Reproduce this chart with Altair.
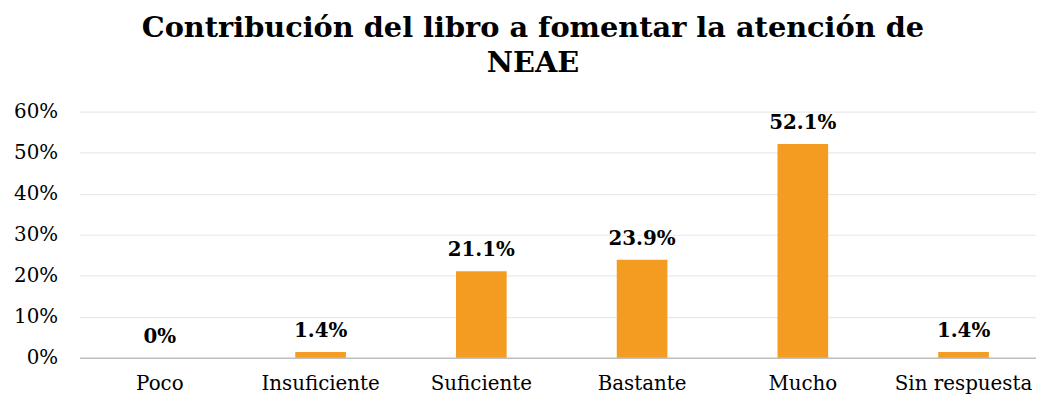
import altair as alt
import pandas as pd

categories = ["Poco", "Insuficiente", "Suficiente", "Bastante", "Mucho", "Sin respuesta"]
values = [0.0, 1.4, 21.1, 23.9, 52.1, 1.4]
y_ticks = [0, 0.1, 0.2, 0.3, 0.4, 0.5, 0.6]
title_lines = ["Contribución del libro a fomentar la atención de", "NEAE"]

df = pd.DataFrame({
    "cat": categories,
    "pct": [v / 100 for v in values],
    "label": [f"{v:g}%" for v in values],
})

FONT = "DejaVu Serif"

x = alt.X(
    "cat:N", sort=categories, title=None,
    scale=alt.Scale(paddingInner=0.685, paddingOuter=0.318, align=0.539),
    axis=alt.Axis(labelAngle=0, labelFont=FONT, labelFontSize=20, labelColor="#000000",
                  labelPadding=16, ticks=False, domainColor="#bfbfbf", domainWidth=1.5,
                  grid=False),
)
y = alt.Y(
    "pct:Q", title=None,
    scale=alt.Scale(domain=[0, 0.6], nice=False),
    axis=alt.Axis(values=y_ticks, format=".0%", labelFont=FONT, labelFontSize=20,
                  labelColor="#000000", labelPadding=22, ticks=False, domain=False,
                  gridColor="#e9e9e9", gridWidth=1.2),
)

base = alt.Chart(df)
bars = base.mark_bar(color="#F39C21").encode(x=x, y=y)
labels = base.mark_text(baseline="bottom", dy=-11, font=FONT, fontSize=20,
                        fontWeight="bold", color="#000000").encode(
    x=x, y=y, text="label:N")

chart = alt.layer(bars, labels).properties(
    width=964, height=248,
    autosize="none",
    padding={"left": 72, "top": 103, "right": 0, "bottom": 36},
    title=alt.TitleParams(text=title_lines, font=FONT, fontSize=29, fontWeight="bold",
                          color="#000000", anchor="middle", offset=24, dx=-25,
                          lineHeight=35),
).configure_view(stroke=None)

chart.save("out.html", embed_options={"renderer": "svg", "actions": False})
